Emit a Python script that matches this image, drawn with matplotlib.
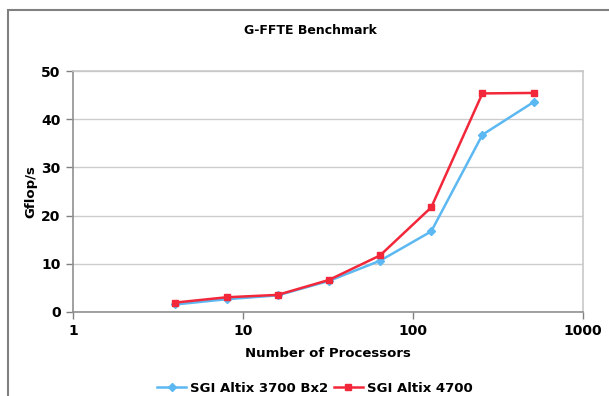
import matplotlib.pyplot as plt
from matplotlib.patches import Rectangle

# Data
processors = [4, 8, 16, 32, 64, 128, 256, 512]
altix_3700 = [1.5, 2.6, 3.4, 6.4, 10.6, 16.7, 36.8, 43.6]
altix_4700 = [1.9, 3.0, 3.5, 6.6, 11.7, 21.7, 45.4, 45.5]
series_labels = ["SGI Altix 3700 Bx2", "SGI Altix 4700"]
x_ticks = [1, 10, 100, 1000]
y_ticks = [0, 10, 20, 30, 40, 50]

BLUE = "#5cb8f2"
RED = "#f2283a"

plt.rcParams["font.family"] = ["DejaVu Sans"]
plt.rcParams["font.weight"] = "bold"

fig = plt.figure(figsize=(6.09, 3.96), dpi=100)

# outer chart frame (cropped on right and bottom in the reference)
fig.patches.append(Rectangle((8 / 609, -0.1), 1.2, 0.975 + 0.1,
                             transform=fig.transFigure, fill=False,
                             edgecolor="#808080", linewidth=1.5))

ax = fig.add_axes([73 / 609, 1 - 311.7 / 396, (583 - 73) / 609, (311.7 - 71.3) / 396])

ax.plot(processors, altix_3700, color=BLUE, marker="D", markersize=4,
        linewidth=1.8, label=series_labels[0])
ax.plot(processors, altix_4700, color=RED, marker="s", markersize=5,
        linewidth=1.8, label=series_labels[1])

ax.set_xscale("log")
ax.set_xlim(1, 1000)
ax.set_ylim(0, 50)
ax.set_xticks(x_ticks)
ax.set_xticklabels([str(t) for t in x_ticks])
ax.minorticks_off()
ax.set_yticks(y_ticks)
ax.tick_params(labelsize=10, length=5, color="#808080", width=1)
ax.tick_params(axis="x", pad=4)
ax.tick_params(axis="y", pad=4)
for lab in ax.get_xticklabels() + ax.get_yticklabels():
    lab.set_fontweight("bold")

ax.grid(True, axis="y", color="#cccccc", linewidth=1)
ax.set_axisbelow(True)
for s in ax.spines.values():
    s.set_color("#c8c8c8")
    s.set_linewidth(1.2)
ax.spines["left"].set_color("#909090")
ax.spines["bottom"].set_color("#909090")

ax.set_xlabel("Number of Processors", fontsize=9.5, fontweight="bold", labelpad=6)
ax.set_ylabel("Gflop/s", fontsize=9.5, fontweight="bold", labelpad=3)

fig.text(310 / 609, 1 - 30 / 396, "G-FFTE Benchmark", ha="center", va="center",
         fontsize=9, fontweight="bold")

fig.legend(loc="center", bbox_to_anchor=(315 / 609, 1 - 388 / 396), ncol=2,
           frameon=False, handlelength=2.2, handletextpad=0.3,
           columnspacing=0.4, prop={"weight": "bold", "size": 9.5})

fig.savefig("out.png", dpi=100)
